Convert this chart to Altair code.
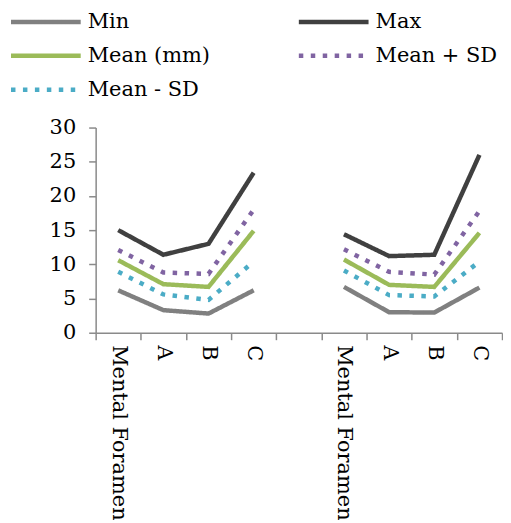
import altair as alt
import pandas as pd

categories = ["MF1", "A1", "B1", "C1", "GAP", "MF2", "A2", "B2", "C2"]
tick_labels = ["Mental Foramen", "A", "B", "C", "", "Mental Foramen", "A", "B", "C"]
groups = [1, 1, 1, 1, None, 2, 2, 2, 2]

series = ["Min", "Max", "Mean (mm)", "Mean + SD", "Mean - SD"]
colors = ["#808080", "#404040", "#9BBB59", "#8064A2", "#4BACC6"]

min_vals = [6.2, 3.3, 2.8, 6.2, None, 6.7, 3.0, 2.95, 6.6]
max_vals = [15.0, 11.4, 13.0, 23.4, None, 14.4, 11.2, 11.4, 26.0]
mean_vals = [10.6, 7.1, 6.7, 14.9, None, 10.7, 7.0, 6.7, 14.6]
mean_plus_sd = [12.1, 8.8, 8.6, 18.0, None, 12.2, 8.9, 8.5, 17.8]
mean_minus_sd = [8.9, 5.6, 4.8, 10.4, None, 9.1, 5.5, 5.3, 10.4]

all_vals = [min_vals, max_vals, mean_vals, mean_plus_sd, mean_minus_sd]

rows = []
for s, vals in zip(series, all_vals):
    for c, g, v in zip(categories, groups, vals):
        if v is None:
            continue
        rows.append({"cat": c, "grp": g, "series": s, "value": v})
df = pd.DataFrame(rows)

label_map = ",".join(f"'{c}':'{l}'" for c, l in zip(categories, tick_labels))
label_expr = "{" + label_map + "}[datum.value]"

FONT = "DejaVu Serif"
FS = 21
dashes = [[1, 0], [1, 0], [1, 0], [4.5, 7.5], [4.5, 7.5]]

legend = alt.Legend(
    title=None, orient="none", legendX=-87.5, legendY=-119,
    columns=2, direction="horizontal", columnPadding=86, rowPadding=8, clipHeight=26,
    symbolType="stroke", symbolSize=4900, symbolStrokeWidth=4.5,
    labelFont=FONT, labelFontSize=FS, labelColor="black",
    labelOffset=4.5, padding=0, symbolOffset=0,
)

chart = alt.Chart(df).mark_line(strokeWidth=4.5, strokeCap="butt", strokeJoin="miter").encode(
    x=alt.X("cat:N",
            scale=alt.Scale(type="band", domain=categories, paddingInner=0, paddingOuter=0),
            axis=alt.Axis(title=None, labelAngle=90, labelExpr=label_expr, tickBand="extent",
                          labelAlign="left", labelBaseline="middle",
                          labelFont=FONT, labelFontSize=FS, labelColor="black",
                          labelPadding=5, tickSize=7, domainColor="#8a8a8a",
                          tickColor="#8a8a8a", domainWidth=1.5, tickWidth=1.5, grid=False)),
    y=alt.Y("value:Q",
            scale=alt.Scale(domain=[0, 30], nice=False),
            axis=alt.Axis(title=None, values=[0, 5, 10, 15, 20, 25, 30],
                          labelFont=FONT, labelFontSize=FS, labelColor="black",
                          labelPadding=13, tickSize=7, domainColor="#8a8a8a",
                          tickColor="#8a8a8a", domainWidth=1.5, tickWidth=1.5, grid=False)),
    color=alt.Color("series:N", scale=alt.Scale(domain=series, range=colors), legend=legend),
    strokeDash=alt.StrokeDash("series:N", scale=alt.Scale(domain=series, range=dashes), legend=legend),
    detail="grp:N",
).properties(
    width=408, height=206, padding=0
).configure_view(stroke=None)

chart.save("out.html", embed_options={"renderer": "svg", "actions": False})
